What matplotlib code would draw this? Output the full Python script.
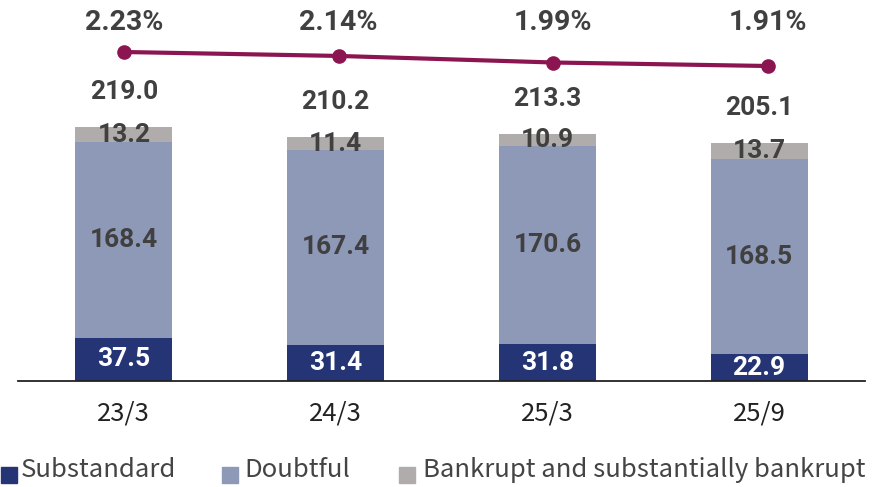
import matplotlib
matplotlib.use("Agg")
import matplotlib.pyplot as plt
from matplotlib.patches import Rectangle
import numpy as np

categories = ["23/3", "24/3", "25/3", "25/9"]
substandard = [37.5, 31.4, 31.8, 22.9]
doubtful = [168.4, 167.4, 170.6, 168.5]
bankrupt = [13.2, 11.4, 10.9, 13.7]
totals = [219.0, 210.2, 213.3, 205.1]
ratio = [2.23, 2.14, 1.99, 1.91]
series_names = ["Substandard", "Doubtful", "Bankrupt and substantially bankrupt"]

c_sub = "#253474"
c_dou = "#8e99b8"
c_bank = "#b0acab"
c_line = "#8b1551"
c_lab = "#404040"
colors = [c_sub, c_dou, c_bank]

W, H = 884, 487
fig = plt.figure(figsize=(W / 100, H / 100), dpi=100)
pos = [18 / W, 106 / H, (865 - 18) / W, 381 / H]
ax = fig.add_axes(pos)
x = np.arange(len(categories))
w = 0.458

sub = np.array(substandard); dou = np.array(doubtful); bk = np.array(bankrupt)
ax.bar(x, sub, w, color=c_sub)
ax.bar(x, dou, w, bottom=sub, color=c_dou)
ax.bar(x, bk, w, bottom=sub + dou, color=c_bank)

lab_font = dict(family="Roboto", weight="bold", fontsize=19)
for i in range(len(x)):
    ax.text(x[i], sub[i] / 2, f"{substandard[i]:.1f}", ha="center", va="center", color="white", **lab_font)
    ax.text(x[i], sub[i] + dou[i] / 2, f"{doubtful[i]:.1f}", ha="center", va="center", color=c_lab, **lab_font)
    ax.text(x[i], sub[i] + dou[i] + bk[i] / 2, f"{bankrupt[i]:.1f}", ha="center", va="center", color=c_lab, **lab_font)
    ax.annotate(f"{totals[i]:.1f}", (x[i], sub[i] + dou[i] + bk[i]), xytext=(0, 25),
                textcoords="offset points", ha="center", va="center", color=c_lab, **lab_font)

ax.set_xlim(-0.5, 3.5)
ax.set_ylim(0, 381 / 1.16)
ax.set_yticks([])
for s in ["top", "right", "left"]:
    ax.spines[s].set_visible(False)
ax.spines["bottom"].set_linewidth(1.3)
ax.spines["bottom"].set_color("#222222")
ax.set_xticks(x)
ax.set_xticklabels(categories, family="Noto Sans CJK JP", fontsize=18.5, color="#222222")
ax.tick_params(axis="x", length=0, pad=14)

# line on its own overlay axes (slightly wider x spacing than bars)
ax2 = fig.add_axes(pos)
ax2.patch.set_visible(False)
xmin2 = -106 / 214.7
ax2.set_xlim(xmin2, xmin2 + 847 / 214.7)
ax2.set_ylim(2.23 - 329 / 43.75, 2.23 + 52 / 43.75)
ax2.plot(x, ratio, color=c_line, lw=3, marker="o", markersize=9.5, solid_capstyle="round")
ax2.axis("off")
for i in range(len(x)):
    ax2.text(x[i], (381 - 23) / 381, f"{ratio[i]:.2f}%", transform=ax2.get_xaxis_transform(),
             ha="center", va="center", color=c_lab, family="Roboto", weight="bold", fontsize=20.5)

# legend
sq_x = [1, 222, 399]
tx_x = [21, 244, 423]
for name, col, sx, tx in zip(series_names, colors, sq_x, tx_x):
    fig.patches.append(Rectangle((sx / W, (H - 483) / H), 16 / W, 16 / H, transform=fig.transFigure,
                                 color=col, figure=fig))
    fig.text(tx / W, (H - 470) / H, name, ha="left", va="center", family="Noto Sans CJK JP",
             fontsize=18.5, color="#444444")

fig.savefig("out.png", dpi=100)
